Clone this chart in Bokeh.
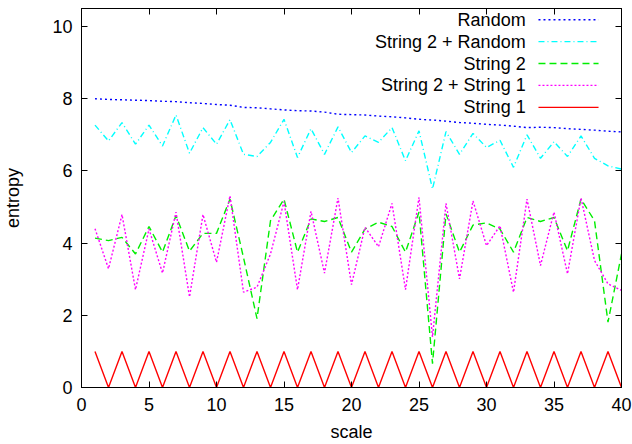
from bokeh.plotting import figure
from bokeh.models import Range1d, LinearAxis, FixedTicker, Label, Arrow, CustomJSTickFormatter
from bokeh.embed import file_html
from bokeh.resources import INLINE

scale = list(range(1, 41))

random_vals = [8.00, 7.98, 7.97, 7.96, 7.95, 7.93, 7.92, 7.89, 7.87, 7.84,
               7.82, 7.76, 7.75, 7.72, 7.69, 7.67, 7.66, 7.63, 7.57, 7.56,
               7.55, 7.52, 7.50, 7.47, 7.43, 7.41, 7.38, 7.34, 7.32, 7.29,
               7.27, 7.24, 7.20, 7.21, 7.20, 7.17, 7.15, 7.13, 7.10, 7.08]

s2_random = [7.27, 6.83, 7.34, 6.74, 7.27, 6.69, 7.55, 6.49, 7.20, 6.74,
             7.42, 6.46, 6.40, 6.79, 7.43, 6.37, 7.17, 6.46, 7.22, 6.51,
             6.97, 6.79, 7.20, 6.28, 7.11, 5.50, 7.09, 6.46, 7.04, 6.65,
             6.85, 6.10, 7.00, 6.35, 6.81, 6.40, 6.97, 6.35, 6.14, 6.05]

string2 = [4.14, 4.07, 4.16, 3.70, 4.46, 3.75, 4.76, 3.78, 4.27, 4.27,
           5.22, 3.60, 1.91, 4.62, 5.22, 3.75, 4.67, 4.60, 4.71, 3.75,
           4.39, 4.58, 4.46, 3.75, 4.86, 0.66, 4.81, 3.75, 4.50, 4.56,
           4.39, 3.75, 4.71, 4.60, 4.71, 3.79, 5.22, 4.62, 1.81, 3.70]

s2_s1 = [4.40, 3.29, 4.79, 2.71, 4.39, 3.17, 4.86, 2.51, 4.79, 3.47,
         5.31, 2.64, 2.78, 3.70, 5.15, 2.71, 4.88, 3.17, 5.25, 2.85,
         4.44, 3.90, 5.10, 2.71, 5.27, 1.40, 5.10, 3.01, 5.17, 3.93,
         4.48, 2.64, 5.22, 3.38, 4.86, 3.15, 5.25, 3.52, 2.87, 2.69]

string1 = [1, 0, 1, 0, 1, 0, 1, 0, 1, 0, 1, 0, 1, 0, 1, 0, 1, 0, 1, 0,
           1, 0, 1, 0, 1, 0, 1, 0, 1, 0, 1, 0, 1, 0, 1, 0, 1, 0, 1, 0]

x_ticks = [0, 5, 10, 15, 20, 25, 30, 35, 40]
y_ticks = [0, 2, 4, 6, 8, 10]

series = [
    ("Random", random_vals, "#0000ff", "2 3"),
    ("String 2 + Random", s2_random, "#00ffff", "6 3 1 3"),
    ("String 2", string2, "#00ee00", "7 4"),
    ("String 2 + String 1", s2_s1, "#ff00ff", "2 2"),
    ("String 1", string1, "#ff0000", "solid"),
]

FONT = "Liberation Sans"
FS = "18px"
LW = 1.4

p = figure(width=632, height=444, output_backend="svg", toolbar_location=None,
           x_range=Range1d(0, 40), y_range=Range1d(0, 10.5),
           min_border_left=80, min_border_right=11, min_border_top=8,
           min_border_bottom=55)
p.background_fill_color = "white"
p.border_fill_color = "white"
p.outline_line_color = "black"
p.outline_line_width = 1
p.xgrid.visible = False
p.ygrid.visible = False

for ax, ticks in ((p.xaxis[0], x_ticks), (p.yaxis[0], y_ticks)):
    ax.ticker = FixedTicker(ticks=ticks)
    ax.major_tick_in = 6
    ax.major_tick_out = 0
    ax.minor_tick_line_color = None
    ax.axis_line_color = "black"
    ax.major_tick_line_color = "black"
    ax.major_label_text_font = FONT
    ax.major_label_text_font_size = FS
    ax.major_label_text_color = "black"
    ax.axis_label_text_font = FONT
    ax.axis_label_text_font_size = FS
    ax.axis_label_text_font_style = "normal"
    ax.axis_label_text_color = "black"

p.xaxis.major_label_standoff = 10
p.yaxis.major_label_standoff = 9
p.xaxis.axis_label = "scale"
p.yaxis.axis_label = "entropy"
p.xaxis.axis_label_standoff = 8
p.yaxis.axis_label_standoff = 26

blank = CustomJSTickFormatter(code="return '';")
top_ax = LinearAxis(ticker=FixedTicker(ticks=x_ticks), major_tick_in=6,
                    major_tick_out=0, minor_tick_line_color=None,
                    formatter=blank, major_label_standoff=0,
                    axis_line_color="black")
right_ax = LinearAxis(ticker=FixedTicker(ticks=y_ticks), major_tick_in=6,
                      major_tick_out=0, minor_tick_line_color=None,
                      formatter=blank, major_label_standoff=0,
                      axis_line_color="black")
p.add_layout(top_ax, "above")
p.add_layout(right_ax, "right")

for name, vals, color, dash in series:
    p.line(scale, vals, line_color=color, line_width=LW, line_dash=dash)

# legend (gnuplot style: label on the left, sample on the right)
leg_text_x = 32.9
leg_x0, leg_x1 = 33.85, 38.3
leg_y_top, leg_dy = 10.19, 0.607
for i, (name, vals, color, dash) in enumerate(series):
    yy = leg_y_top - i * leg_dy
    p.add_layout(Label(x=leg_text_x, y=yy, text=name, text_align="right",
                       text_baseline="middle", text_font=FONT,
                       text_font_size=FS, text_color="black"))
    p.add_layout(Arrow(end=None, x_start=leg_x0, y_start=yy, x_end=leg_x1,
                       y_end=yy, line_color=color, line_width=LW,
                       line_dash=dash))

open("out.html", "w").write(file_html(p, INLINE))
